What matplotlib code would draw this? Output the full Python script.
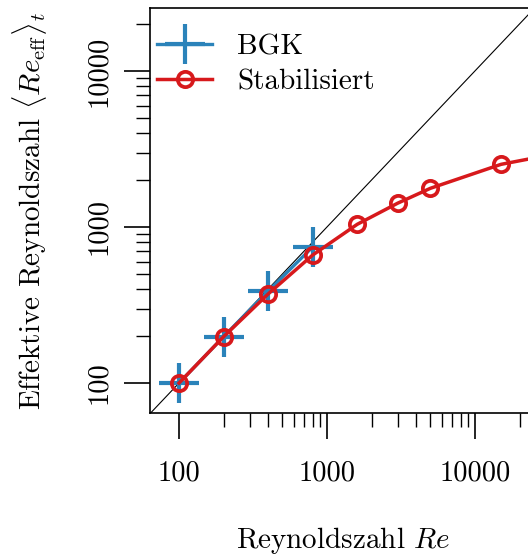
import numpy as np
import matplotlib
matplotlib.use('Agg')
import matplotlib.pyplot as plt
from matplotlib.ticker import FixedLocator, FixedFormatter, NullFormatter

# data
re_bgk = [100, 200, 400, 800]
eff_bgk = [100, 198, 388, 745]

re_stab = [100, 200, 400, 800, 1600, 3000, 5000, 15000, 30000]
eff_stab = [100, 198, 372, 661, 1040, 1420, 1770, 2520, 2860]

diag = [1, 1e6]

major = [100, 1000, 10000]
major_labels = ['100', '1000', '10000']
minor = [m * d for d in (100, 1000, 10000) for m in range(2, 10)]

blue = '#2b83ba'
red = '#d7191c'

plt.rcParams['font.family'] = 'cmr10'
plt.rcParams['mathtext.fontset'] = 'cm'
plt.rcParams['axes.formatter.use_mathtext'] = True
fs = 20.5

fig = plt.figure(figsize=(5.28, 5.56), dpi=100)
# axes runs past the right edge of the figure (as in the cropped original)
ax = fig.add_axes([150/528, 1 - 413/556, 395.6/528, 405/556])

ax.plot(diag, diag, color='black', lw=0.8, zorder=1)
ax.plot(re_bgk, eff_bgk, color=blue, lw=2.4, marker='+', ms=29, mew=3,
        label='BGK', zorder=2)
ax.plot(re_stab, eff_stab, color=red, lw=2.5, marker='o', ms=11, mew=2.7,
        mfc='none', label='Stabilisiert', zorder=3)

ax.set_xscale('log')
ax.set_yscale('log')
ax.set_xlim(63.7, 30000)
ax.set_ylim(64.3, 25300)

for axis in (ax.xaxis, ax.yaxis):
    axis.set_major_locator(FixedLocator(major))
    axis.set_major_formatter(FixedFormatter(major_labels))
    axis.set_minor_locator(FixedLocator(minor))
    axis.set_minor_formatter(NullFormatter())

ax.tick_params(which='major', direction='out', length=19, width=1.2,
               labelsize=fs)
ax.tick_params(which='minor', direction='out', length=10, width=1.0)
ax.tick_params(axis='x', which='major', pad=15)
ax.tick_params(axis='y', which='major', pad=8)
for lab in ax.get_yticklabels():
    lab.set_rotation(90)
    lab.set_va('center')

ax.spines['right'].set_visible(False)
for s in ('left', 'bottom', 'top'):
    ax.spines[s].set_linewidth(1.2)

ax.set_xlabel('Reynoldszahl $Re$', fontsize=21, va='center')
ax.xaxis.set_label_coords((343 - 150) / 395.6, -(541 - 413) / 405)
ax.set_ylabel(r'Effektive Reynoldszahl $\langle Re_\mathrm{eff}\rangle_t$',
              fontsize=21, va='center')
ax.yaxis.set_label_coords(-(150 - 29) / 395.6, (413 - 211) / 405)

ax.legend(loc='upper left', frameon=False, fontsize=21, handlelength=1.9,
          handletextpad=0.85, borderpad=0, borderaxespad=0, labelspacing=0.3,
          bbox_to_anchor=(7 / 395.6, 1 - 26 / 405))

fig.savefig('out.png', dpi=100)
